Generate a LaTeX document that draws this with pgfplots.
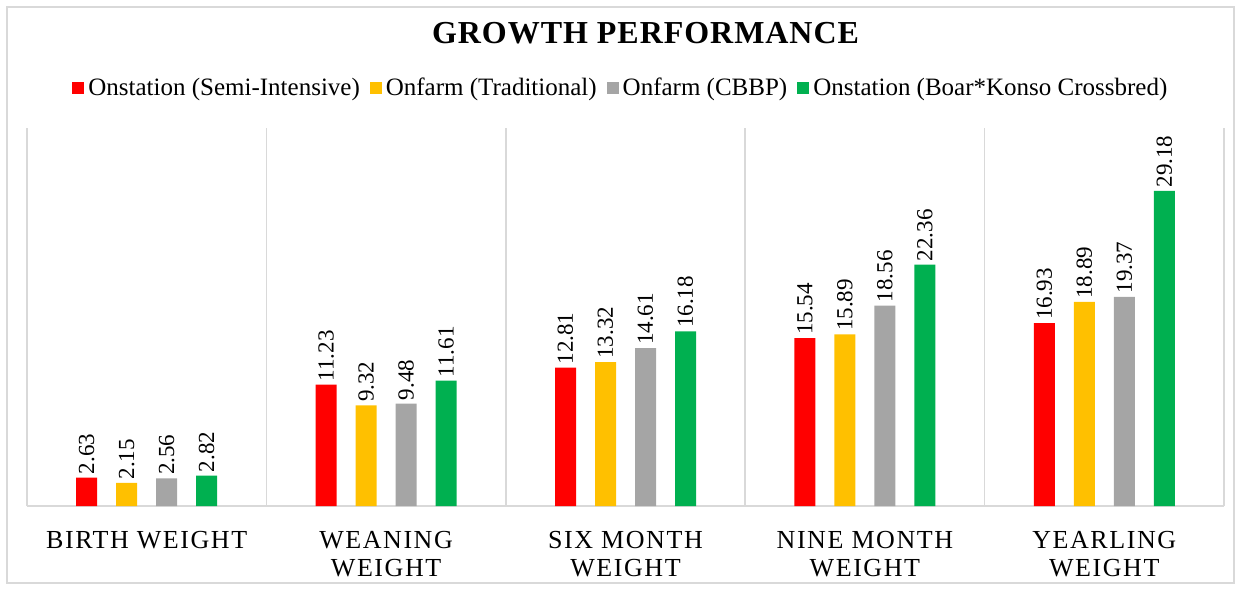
\documentclass[border=0pt]{standalone}
\usepackage{fontspec}
\setmainfont{Liberation Serif}
\usepackage{pgfplots}
\pgfplotsset{compat=1.18}
\definecolor{cred}{HTML}{FF0000}
\definecolor{cyellow}{HTML}{FFC000}
\definecolor{cgray}{HTML}{A5A5A5}
\definecolor{cgreen}{HTML}{00B050}
\definecolor{gridgray}{HTML}{D9D9D9}

\begin{document}
\begin{tikzpicture}
\path[use as bounding box] (0,0) rectangle (620.5pt,295pt);
\draw[gridgray, line width=0.6pt] (3.5pt,3.5pt) rectangle (617pt,291.5pt);
\begin{axis}[
  at={(13.5pt,42pt)}, anchor=south west,
  scale only axis, width=598.5pt, height=189pt,
  ybar=9.5pt, bar width=10.5pt,
  xmin=-0.5, xmax=4.5, ymin=0, ymax=35,
  axis y line=none, axis x line*=bottom,
  x axis line style={gridgray, line width=0.75pt, -},
  xtick={0,1,2,3,4},
  xticklabels={BIRTH WEIGHT, {WEANING\\WEIGHT}, {SIX MONTH\\WEIGHT}, {NINE MONTH\\WEIGHT}, {YEARLING\\WEIGHT}},
  xticklabel style={align=center, yshift=-5pt,
    font=\fontsize{13}{14}\selectfont\addfontfeatures{LetterSpace=6}},
  xtick style={draw=none}, minor tick length=0pt,
  minor xtick={-0.5,0.5,1.5,2.5,3.5,4.5},
  xminorgrids, minor grid style={gridgray, line width=0.75pt},
  nodes near coords,
  /pgf/number format/.cd, fixed, fixed zerofill, precision=2, assume math mode=true,
  /pgfplots/.cd,
  every node near coord/.append style={rotate=90, anchor=west, inner sep=1.5pt,
    font=\fontsize{11.5}{13}\selectfont, black},
  legend columns=-1,
  legend style={at={(0.497,1.106)}, anchor=center, draw=none,
    font=\fontsize{12.5}{14}\selectfont,
    /tikz/every even column/.append style={column sep=3pt}},
  legend image code/.code={\path[#1, draw=none] (0pt,-3pt) rectangle (6pt,3pt);},
]
\addplot[fill=cred, draw=none] coordinates {(0,2.63) (1,11.23) (2,12.81) (3,15.54) (4,16.93)};
\addplot[fill=cyellow, draw=none] coordinates {(0,2.15) (1,9.32) (2,13.32) (3,15.89) (4,18.89)};
\addplot[fill=cgray, draw=none] coordinates {(0,2.56) (1,9.48) (2,14.61) (3,18.56) (4,19.37)};
\addplot[fill=cgreen, draw=none] coordinates {(0,2.82) (1,11.61) (2,16.18) (3,22.36) (4,29.18)};
\legend{Onstation (Semi-Intensive), Onfarm (Traditional), Onfarm (CBBP), Onstation (Boar*Konso Crossbred)}
\end{axis}
\node[font=\fontsize{16}{19}\selectfont\bfseries\addfontfeatures{LetterSpace=3}] at (322.75pt,278.5pt) {GROWTH PERFORMANCE};
\end{tikzpicture}
\end{document}
